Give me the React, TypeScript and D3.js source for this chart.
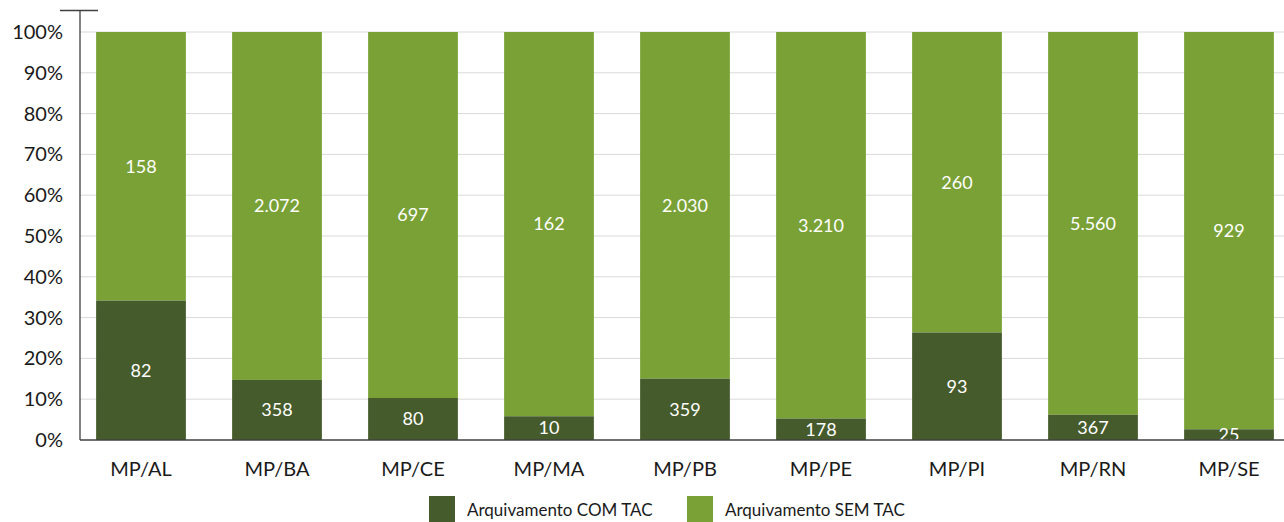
import React, { useEffect, useRef } from 'react';
import * as d3 from 'd3';

const categories = ['MP/AL', 'MP/BA', 'MP/CE', 'MP/MA', 'MP/PB', 'MP/PE', 'MP/PI', 'MP/RN', 'MP/SE'];
const comTac = [82, 358, 80, 10, 359, 178, 93, 367, 25];
const semTac = [158, 2072, 697, 162, 2030, 3210, 260, 5560, 929];
const seriesNames = ['Arquivamento COM TAC', 'Arquivamento SEM TAC'];
const yTicks = [0, 10, 20, 30, 40, 50, 60, 70, 80, 90, 100];

const width = 1284;
const height = 522;
const font = "Lato, 'Open Sans', sans-serif";

const fmt = (v: number) => d3.format(',')(v).replace(/,/g, '.');

export default function App() {
  const svgRef = useRef<SVGSVGElement>(null);

  useEffect(() => {
    if (!svgRef.current) return;
    const svg = d3.select(svgRef.current);
    svg.selectAll('*').remove();

    const colors = { com: '#465b2b', sem: '#79a136', grid: '#d9d9d9', axis: '#404040', text: '#1a1a1a' };

    const data = categories.map((c, i) => {
      const total = comTac[i] + semTac[i];
      return { name: c, com: comTac[i], sem: semTac[i], comPct: (comTac[i] / total) * 100 };
    });

    const axisX = 80;
    const x = d3.scaleBand().domain(categories).range([73, 1297]).paddingInner(0.34).paddingOuter(0.17);
    const y = d3.scaleLinear().domain([0, 100]).range([440, 32]);

    svg.append('rect').attr('width', width).attr('height', height).attr('fill', '#fff');

    // Grid
    svg.append('g')
      .selectAll('line')
      .data(yTicks.filter(t => t > 0))
      .enter().append('line')
      .attr('x1', axisX).attr('x2', width)
      .attr('y1', d => y(d)).attr('y2', d => y(d))
      .attr('stroke', colors.grid).attr('stroke-width', 1);

    // Bars
    const bars = svg.append('g');
    bars.selectAll('.sem')
      .data(data).enter().append('rect')
      .attr('x', d => x(d.name) || 0)
      .attr('width', x.bandwidth())
      .attr('y', y(100))
      .attr('height', d => y(d.comPct) - y(100))
      .attr('fill', colors.sem);
    bars.selectAll('.com')
      .data(data).enter().append('rect')
      .attr('x', d => x(d.name) || 0)
      .attr('width', x.bandwidth())
      .attr('y', d => y(d.comPct))
      .attr('height', d => y(0) - y(d.comPct))
      .attr('fill', colors.com);

    // Value labels
    const labels = svg.append('g')
      .attr('font-family', font).attr('font-size', '18px')
      .attr('fill', '#fff').attr('text-anchor', 'middle');
    labels.selectAll('.lc')
      .data(data).enter().append('text')
      .attr('x', d => (x(d.name) || 0) + x.bandwidth() / 2)
      .attr('y', d => (y(0) + y(d.comPct)) / 2)
      .attr('dy', '0.35em')
      .text(d => fmt(d.com));
    labels.selectAll('.ls')
      .data(data).enter().append('text')
      .attr('x', d => (x(d.name) || 0) + x.bandwidth() / 2)
      .attr('y', d => (y(100) + y(d.comPct)) / 2)
      .attr('dy', '0.35em')
      .text(d => fmt(d.sem));

    // Y axis
    svg.append('line')
      .attr('x1', axisX).attr('x2', axisX).attr('y1', 10).attr('y2', y(0))
      .attr('stroke', colors.axis).attr('stroke-width', 1.3);
    svg.append('line')
      .attr('x1', 60).attr('x2', 98).attr('y1', 10.5).attr('y2', 10.5)
      .attr('stroke', colors.axis).attr('stroke-width', 1.3);
    svg.append('line')
      .attr('x1', axisX).attr('x2', width).attr('y1', y(0)).attr('y2', y(0))
      .attr('stroke', colors.axis).attr('stroke-width', 1.3);

    svg.append('g')
      .selectAll('text')
      .data(yTicks).enter().append('text')
      .attr('x', 63)
      .attr('y', d => y(d))
      .attr('dy', '0.35em')
      .attr('text-anchor', 'end')
      .attr('font-family', font).attr('font-size', '20px').attr('fill', colors.text)
      .text(d => d + '%');

    // X labels
    svg.append('g')
      .selectAll('text')
      .data(categories).enter().append('text')
      .attr('x', d => (x(d) || 0) + x.bandwidth() / 2)
      .attr('y', 476)
      .attr('text-anchor', 'middle')
      .attr('font-family', font).attr('font-size', '20px').attr('fill', colors.text)
      .text(d => d);

    // Legend
    const legendX = [429, 687];
    const legend = svg.append('g');
    seriesNames.forEach((name, i) => {
      legend.append('rect')
        .attr('x', legendX[i]).attr('y', 496).attr('width', 26).attr('height', 26)
        .attr('fill', i === 0 ? colors.com : colors.sem);
      legend.append('text')
        .attr('x', legendX[i] + 38).attr('y', 516)
        .attr('font-family', font).attr('font-size', '17px').attr('fill', colors.text)
        .text(name);
    });
  }, []);

  return (
    <svg ref={svgRef} width={width} height={height}
      style={{ position: 'absolute', left: 0, top: 0, display: 'block' }} />
  );
}
